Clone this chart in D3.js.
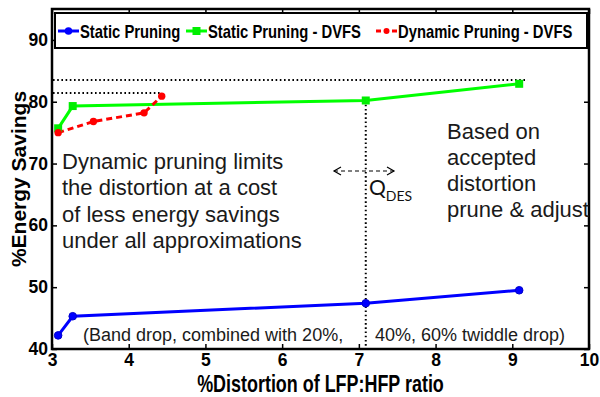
<!DOCTYPE html>
<html><head><meta charset="utf-8">
<script src="https://cdn.jsdelivr.net/npm/d3@7"></script>
<style>body{margin:0;background:#fff}svg{display:block}</style>
</head><body>
<script>
// Tick values
const xTicks = [3, 4, 5, 6, 7, 8, 9, 10];
const yTicks = [40, 50, 60, 70, 80, 90];

// Series: %distortion (x) vs %energy savings (y)
const staticX = [3.08, 3.27, 7.09, 9.09];
const staticY = [42.2, 45.3, 47.4, 49.5];
const dvfsX = [3.08, 3.27, 7.09, 9.09];
const dvfsY = [75.7, 79.3, 80.2, 82.9];
const dynX = [3.08, 3.54, 4.2, 4.43];
const dynY = [75.0, 76.8, 78.2, 80.9];
const seriesNames = ["Static Pruning", "Static Pruning - DVFS", "Dynamic Pruning - DVFS"];

// Dotted guide levels (energy) and where they stop (distortion)
const guideLevels = [83.5, 81.4];
const guideEnds = [9.2, 4.42];
// Desired-quality distortion and its energy level
const qDesX = 7.09;
const qDesY = 80.2;

const W = 600, H = 397;
const svg = d3.select("body").append("svg").attr("width", W).attr("height", H);

const x = d3.scaleLinear().domain([3, 10]).range([52, 589]);
const y = d3.scaleLinear().domain([40, 95]).range([349, 9]);

const boldFont = "'Liberation Sans', Arial, Helvetica, sans-serif";

// Axes with inward ticks on all four sides
function styleAxis(g) {
  g.select(".domain").remove();
  g.selectAll(".tick line").attr("stroke", "#000").attr("stroke-width", 1.5);
  g.selectAll(".tick text").attr("fill", "#000").attr("font-family", boldFont)
    .attr("font-weight", "bold").attr("font-size", 17.5);
}
svg.append("g").attr("transform", `translate(0,${y.range()[0]})`)
  .call(d3.axisBottom(x).tickValues(xTicks).tickSize(-5).tickPadding(5).tickFormat(d3.format("d")))
  .call(styleAxis);
svg.append("g").attr("transform", `translate(0,${y.range()[1]})`)
  .call(d3.axisTop(x).tickValues(xTicks).tickSize(-5).tickFormat(""))
  .call(styleAxis);
svg.append("g").attr("transform", `translate(${x.range()[0]},0)`)
  .call(d3.axisLeft(y).tickValues(yTicks).tickSize(-5).tickPadding(4).tickFormat(d3.format("d")))
  .call(styleAxis);
svg.append("g").attr("transform", `translate(${x.range()[1]},0)`)
  .call(d3.axisRight(y).tickValues(yTicks).tickSize(-5).tickFormat(""))
  .call(styleAxis);

// Dotted guides
const dotted = svg.append("g").attr("stroke", "#000").attr("stroke-width", 2)
  .attr("stroke-dasharray", "1.6,2.6").attr("fill", "none");
guideLevels.forEach((lv, i) => {
  dotted.append("line").attr("x1", x(3) + 1).attr("x2", x(guideEnds[i]))
    .attr("y1", y(lv)).attr("y2", y(lv));
});
dotted.append("line").attr("x1", x(qDesX)).attr("x2", x(qDesX))
  .attr("y1", y(qDesY)).attr("y2", y(40));

// Series lines and markers
const line = d3.line().x(d => x(d[0])).y(d => y(d[1]));
const zip = (a, b) => a.map((v, i) => [v, b[i]]);

const sData = zip(staticX, staticY), gData = zip(dvfsX, dvfsY), rData = zip(dynX, dynY);

svg.append("path").datum(sData).attr("d", line).attr("fill", "none")
  .attr("stroke", "#0000ff").attr("stroke-width", 3);
svg.append("path").datum(gData).attr("d", line).attr("fill", "none")
  .attr("stroke", "#00ff00").attr("stroke-width", 3);
svg.append("path").datum(rData).attr("d", line).attr("fill", "none")
  .attr("stroke", "#ff0000").attr("stroke-width", 3).attr("stroke-dasharray", "6,4");

svg.selectAll(".mS").data(sData).join("circle").attr("cx", d => x(d[0])).attr("cy", d => y(d[1]))
  .attr("r", 3.8).attr("fill", "#0000ff").attr("stroke", "#0000cc").attr("stroke-width", 1);
svg.selectAll(".mG").data(gData).join("rect").attr("x", d => x(d[0]) - 4).attr("y", d => y(d[1]) - 4)
  .attr("width", 8).attr("height", 8).attr("fill", "#00ee00");
svg.selectAll(".mR").data(rData).join("circle").attr("cx", d => x(d[0])).attr("cy", d => y(d[1]))
  .attr("r", 3.7).attr("fill", "#ff0000");

// Plot frame
svg.append("rect").attr("x", x.range()[0]).attr("y", y.range()[1])
  .attr("width", x.range()[1] - x.range()[0]).attr("height", y.range()[0] - y.range()[1])
  .attr("fill", "none").attr("stroke", "#000").attr("stroke-width", 2.5);

// Legend
const lg = svg.append("g");
lg.append("rect").attr("x", 55).attr("y", 13).attr("width", 532).attr("height", 35)
  .attr("fill", "#fff").attr("stroke", "#000").attr("stroke-width", 2);
const legendX = [58, 186, 376];
const legendColor = ["#0000ff", "#00ff00", "#ff0000"];
seriesNames.forEach((name, i) => {
  const lx = legendX[i], ly = 31;
  const l = lg.append("line").attr("x1", lx).attr("x2", lx + 21).attr("y1", ly).attr("y2", ly)
    .attr("stroke", legendColor[i]).attr("stroke-width", 3);
  if (i === 2) l.attr("stroke-dasharray", "5,3");
  if (i === 0) lg.append("circle").attr("cx", lx + 10.5).attr("cy", ly).attr("r", 3.8).attr("fill", legendColor[i]);
  if (i === 1) lg.append("rect").attr("x", lx + 6.5).attr("y", ly - 4).attr("width", 8).attr("height", 8).attr("fill", "#00ee00");
  if (i === 2) lg.append("circle").attr("cx", lx + 10.5).attr("cy", ly).attr("r", 3).attr("fill", legendColor[i]);
  lg.append("text").attr("transform", `translate(${lx + 22},37.5) scale(0.8,1)`)
    .attr("font-family", boldFont).attr("font-weight", "bold").attr("font-size", 18.5)
    .attr("fill", "#000").text(name);
});

// Axis labels
svg.append("text").attr("transform", `translate(${(x.range()[0] + x.range()[1]) / 2},392) scale(0.78,1)`)
  .attr("text-anchor", "middle").attr("font-family", boldFont).attr("font-weight", "bold")
  .attr("font-size", 23).text("%Distortion of LFP:HFP ratio");
svg.append("text").attr("transform", `translate(25.5,${(y.range()[0] + y.range()[1]) / 2}) rotate(-90)`)
  .attr("text-anchor", "middle").attr("font-family", boldFont).attr("font-weight", "bold")
  .attr("font-size", 21).text("%Energy Savings");

// Annotations
const note = (lines, tx, ty, size, gap) => {
  const t = svg.append("text").attr("font-family", "'Liberation Sans', Arial, sans-serif")
    .attr("font-size", size).attr("fill", "#1a1a1a");
  lines.forEach((s, i) => t.append("tspan").attr("x", tx).attr("y", ty + i * gap).text(s));
};
note(["Dynamic pruning limits", "the distortion at a cost", "of less energy savings", "under all approximations"], 62, 169, 22, 26.3);
note(["Based on", "accepted", "distortion", "prune & adjust"], 447, 139, 22, 26);
note(["(Band drop, combined with 20%,"], 83, 341, 18, 0);
note(["40%, 60% twiddle drop)"], 375, 341, 18, 0);

// Q_DES marker with two-way dashed arrow
const ay = 171;
svg.append("line").attr("x1", 334).attr("x2", 394).attr("y1", ay).attr("y2", ay)
  .attr("stroke", "#000").attr("stroke-width", 1.2).attr("stroke-dasharray", "4,3");
svg.append("path").attr("d", `M341,${ay - 4}L334,${ay}L341,${ay + 4}M387,${ay - 4}L394,${ay}L387,${ay + 4}`)
  .attr("fill", "none").attr("stroke", "#000").attr("stroke-width", 1.2);
const q = svg.append("text").attr("x", 369).attr("y", 195).attr("font-family", "Lato, 'Open Sans', sans-serif")
  .attr("font-size", 21).attr("fill", "#111");
q.append("tspan").text("Q");
q.append("tspan").attr("font-size", 14).attr("dy", 6).text("DES");
</script>
</body></html>
